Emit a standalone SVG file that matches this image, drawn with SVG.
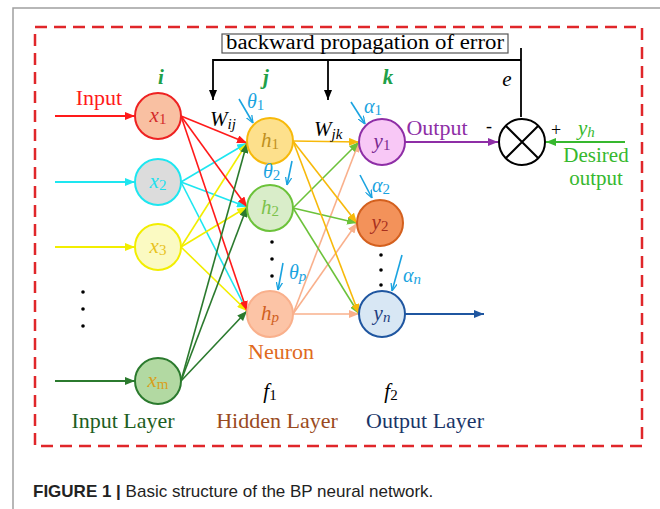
<svg xmlns="http://www.w3.org/2000/svg" width="660" height="509" viewBox="0 0 660 509">
<style>
.t{font-family:"Liberation Serif","Times New Roman",serif;}
.it{font-family:"Liberation Serif","Times New Roman",serif;font-style:italic;}
.lbl{font-size:22px;text-anchor:middle;}
.nt{font-size:21px;text-anchor:middle;}
.gk{font-size:20px;}
.node{stroke-width:2;}
.sub{font-size:15px;font-style:normal;}
.subi{font-size:15px;font-style:italic;}
.ln{fill:none;stroke-width:1.8;}
</style>
<defs>
<marker id="mRed" viewBox="0 0 10 8" refX="10" refY="4" markerWidth="10" markerHeight="8" markerUnits="userSpaceOnUse" orient="auto"><path d="M0,0L10,4L0,8z" fill="#ff1a1a"/></marker>
<marker id="mCyan" viewBox="0 0 10 8" refX="10" refY="4" markerWidth="10" markerHeight="8" markerUnits="userSpaceOnUse" orient="auto"><path d="M0,0L10,4L0,8z" fill="#1ee6f0"/></marker>
<marker id="mYel" viewBox="0 0 10 8" refX="10" refY="4" markerWidth="10" markerHeight="8" markerUnits="userSpaceOnUse" orient="auto"><path d="M0,0L10,4L0,8z" fill="#f2ee00"/></marker>
<marker id="mDg" viewBox="0 0 10 8" refX="10" refY="4" markerWidth="10" markerHeight="8" markerUnits="userSpaceOnUse" orient="auto"><path d="M0,0L10,4L0,8z" fill="#2b7a2e"/></marker>
<marker id="mGold" viewBox="0 0 10 8" refX="10" refY="4" markerWidth="10" markerHeight="8" markerUnits="userSpaceOnUse" orient="auto"><path d="M0,0L10,4L0,8z" fill="#f7b90a"/></marker>
<marker id="mGrn" viewBox="0 0 10 8" refX="10" refY="4" markerWidth="10" markerHeight="8" markerUnits="userSpaceOnUse" orient="auto"><path d="M0,0L10,4L0,8z" fill="#6cc23a"/></marker>
<marker id="mPch" viewBox="0 0 10 8" refX="10" refY="4" markerWidth="10" markerHeight="8" markerUnits="userSpaceOnUse" orient="auto"><path d="M0,0L10,4L0,8z" fill="#f9b08c"/></marker>
<marker id="mPur" viewBox="0 0 10 8" refX="10" refY="4" markerWidth="10" markerHeight="8" markerUnits="userSpaceOnUse" orient="auto"><path d="M0,0L10,4L0,8z" fill="#8e2ea6"/></marker>
<marker id="mLg" viewBox="0 0 10 8" refX="10" refY="4" markerWidth="10" markerHeight="8" markerUnits="userSpaceOnUse" orient="auto"><path d="M0,0L10,4L0,8z" fill="#36b82e"/></marker>
<marker id="mBlu" viewBox="0 0 10 8" refX="10" refY="4" markerWidth="10" markerHeight="8" markerUnits="userSpaceOnUse" orient="auto"><path d="M0,0L10,4L0,8z" fill="#1f56a0"/></marker>
<marker id="mBlk" viewBox="0 0 10 8" refX="10" refY="4" markerWidth="10" markerHeight="8" markerUnits="userSpaceOnUse" orient="auto"><path d="M0,0L10,4L0,8z" fill="#000"/></marker>
<marker id="mSky" viewBox="0 0 10 8" refX="10" refY="4" markerWidth="8" markerHeight="7" markerUnits="userSpaceOnUse" orient="auto"><path d="M0,0L10,4L0,8" fill="none" stroke="#1aa3e0" stroke-width="1.6"/></marker>
</defs>
<rect width="660" height="509" fill="#fff"/>
<!-- outer card border -->
<path d="M13,509V8H660" fill="none" stroke="#a0a0a0" stroke-width="1.5"/>
<!-- dashed frame -->
<rect x="35" y="27" width="607" height="419" fill="none" stroke="#e0262a" stroke-width="2.5" stroke-dasharray="12 7"/>

<g id="connectors">
<!-- backward propagation -->
<path class="ln" d="M521,117V48" stroke="#000"/>
<path class="ln" d="M521,60H213V100" stroke="#000" marker-end="url(#mBlk)"/>
<path class="ln" d="M328,60V100" stroke="#000" marker-end="url(#mBlk)"/>
<!-- input arrows -->
<line class="ln" x1="55" y1="116" x2="135" y2="116" stroke="#ff1a1a" marker-end="url(#mRed)"/>
<line class="ln" x1="55" y1="182" x2="135" y2="182" stroke="#1ee6f0" marker-end="url(#mCyan)"/>
<line class="ln" x1="55" y1="247" x2="135" y2="247" stroke="#f2ee00" marker-end="url(#mYel)"/>
<line class="ln" x1="55" y1="381" x2="135" y2="381" stroke="#2b7a2e" marker-end="url(#mDg)"/>
<!-- input to hidden -->
<g stroke-width="1.6">
<line x1="181" y1="182" x2="247" y2="143" stroke="#1ee6f0" marker-end="url(#mCyan)"/>
<line x1="181" y1="182" x2="247" y2="207" stroke="#1ee6f0" marker-end="url(#mCyan)"/>
<line x1="181" y1="182" x2="247" y2="311" stroke="#1ee6f0" marker-end="url(#mCyan)"/>
<line x1="181" y1="247" x2="247" y2="143" stroke="#f2ee00" marker-end="url(#mYel)"/>
<line x1="181" y1="247" x2="247" y2="207" stroke="#f2ee00" marker-end="url(#mYel)"/>
<line x1="181" y1="247" x2="247" y2="311" stroke="#f2ee00" marker-end="url(#mYel)"/>
<line x1="181" y1="116" x2="247" y2="143" stroke="#ff1a1a" marker-end="url(#mRed)"/>
<line x1="181" y1="116" x2="247" y2="207" stroke="#ff1a1a" marker-end="url(#mRed)"/>
<line x1="181" y1="116" x2="247" y2="311" stroke="#ff1a1a" marker-end="url(#mRed)"/>
<line x1="181" y1="381" x2="247" y2="143" stroke="#2b7a2e" marker-end="url(#mDg)"/>
<line x1="181" y1="381" x2="247" y2="207" stroke="#2b7a2e" marker-end="url(#mDg)"/>
<line x1="181" y1="381" x2="247" y2="311" stroke="#2b7a2e" marker-end="url(#mDg)"/>
</g>
<!-- hidden to output -->
<g stroke-width="1.6">
<line x1="293" y1="314" x2="359" y2="142" stroke="#f9b08c" marker-end="url(#mPch)"/>
<line x1="293" y1="314" x2="357" y2="223" stroke="#f9b08c" marker-end="url(#mPch)"/>
<line x1="293" y1="314" x2="359" y2="314" stroke="#f9b08c" marker-end="url(#mPch)"/>
<line x1="293" y1="208" x2="359" y2="142" stroke="#6cc23a" marker-end="url(#mGrn)"/>
<line x1="293" y1="208" x2="357" y2="223" stroke="#6cc23a" marker-end="url(#mGrn)"/>
<line x1="293" y1="208" x2="359" y2="314" stroke="#6cc23a" marker-end="url(#mGrn)"/>
<line x1="293" y1="141" x2="359" y2="142" stroke="#f7b90a" marker-end="url(#mGold)"/>
<line x1="293" y1="141" x2="357" y2="223" stroke="#f7b90a" marker-end="url(#mGold)"/>
<line x1="293" y1="141" x2="359" y2="314" stroke="#f7b90a" marker-end="url(#mGold)"/>
</g>
<!-- outputs -->
<line class="ln" x1="405" y1="142" x2="498" y2="142" stroke="#8e2ea6" marker-end="url(#mPur)"/>
<line class="ln" x1="625" y1="142" x2="546" y2="142" stroke="#36b82e" marker-end="url(#mLg)"/>
<line class="ln" x1="405" y1="314" x2="484" y2="314" stroke="#1f56a0" marker-end="url(#mBlu)"/>
<!-- bias arrows -->
<g stroke="#1aa3e0" stroke-width="1.6" fill="none">
<line x1="239" y1="99" x2="253" y2="123" marker-end="url(#mSky)"/>
<line x1="292" y1="161" x2="287" y2="185" marker-end="url(#mSky)"/>
<line x1="283" y1="263" x2="278" y2="290" marker-end="url(#mSky)"/>
<line x1="351" y1="102" x2="365" y2="124" marker-end="url(#mSky)"/>
<line x1="360" y1="175" x2="372" y2="198" marker-end="url(#mSky)"/>
<line x1="402" y1="255" x2="392" y2="291" marker-end="url(#mSky)"/>
</g>
</g>

<g id="box-backprop">
<rect x="222" y="34" width="286" height="19" fill="#fff" stroke="#555" stroke-width="1.2"/>
<text class="t" x="226" y="49" font-size="20.5" textLength="278" lengthAdjust="spacingAndGlyphs" fill="#000">backward propagation of error</text>
</g>

<g id="node-x1">
<circle class="node" cx="158" cy="116" r="23" fill="#f9c0a2" stroke="#ee2222"/>
<text class="it nt" x="158" y="122" fill="#d42a2a">x<tspan class="sub" dy="2">1</tspan></text>
</g>
<g id="node-x2">
<circle class="node" cx="158" cy="182" r="23" fill="#dcdcdc" stroke="#1ee6f0"/>
<text class="it nt" x="158" y="188" fill="#1ee0ee">x<tspan class="sub" dy="2">2</tspan></text>
</g>
<g id="node-x3">
<circle class="node" cx="158" cy="247" r="23" fill="#fbfac2" stroke="#f2ee00"/>
<text class="it nt" x="158" y="253" fill="#e8c21e">x<tspan class="sub" dy="2">3</tspan></text>
</g>
<g id="node-xm">
<circle class="node" cx="158" cy="381" r="23" fill="#b2d9a2" stroke="#2b7a2e"/>
<text class="it nt" x="158" y="387" fill="#d8a020">x<tspan class="sub" dy="2">m</tspan></text>
</g>

<g id="node-h1">
<circle class="node" cx="270" cy="141" r="23" fill="#fde08c" stroke="#f7b90a"/>
<text class="it nt" x="270" y="147" fill="#c0901e">h<tspan class="sub" dy="2">1</tspan></text>
</g>
<g id="node-h2">
<circle class="node" cx="270" cy="208" r="23" fill="#d9edc9" stroke="#6cc23a"/>
<text class="it nt" x="270" y="214" fill="#7cc24c">h<tspan class="sub" dy="2">2</tspan></text>
</g>
<g id="node-hp">
<circle class="node" cx="270" cy="314" r="23" fill="#fcc4a6" stroke="#f9b08c"/>
<text class="it nt" x="270" y="320" fill="#d0601e">h<tspan class="subi" dy="2">p</tspan></text>
</g>

<g id="node-y1">
<circle class="node" cx="382" cy="142" r="23" fill="#f8c8f6" stroke="#8e2ea6"/>
<text class="it nt" x="382" y="148" fill="#7a2a90">y<tspan class="sub" dy="2">1</tspan></text>
</g>
<g id="node-y2">
<circle class="node" cx="380" cy="223" r="23" fill="#f3925a" stroke="#d4601e"/>
<text class="it nt" x="380" y="229" fill="#a8301e">y<tspan class="sub" dy="2">2</tspan></text>
</g>
<g id="node-yn">
<circle class="node" cx="382" cy="314" r="23" fill="#d8e7f4" stroke="#1f56a0"/>
<text class="it nt" x="382" y="320" fill="#1f3f80">y<tspan class="subi" dy="2">n</tspan></text>
</g>

<g id="node-sum">
<circle cx="522" cy="142" r="23" fill="#fff" stroke="#000" stroke-width="2"/>
<path d="M505.7,125.7L538.3,158.3M538.3,125.7L505.7,158.3" stroke="#000" stroke-width="2"/>
</g>

<g id="labels">
<text class="t" x="99" y="105" font-size="22" text-anchor="middle" fill="#ff1a1a">Input</text>
<text class="it" x="161" y="84" font-size="21" font-weight="bold" text-anchor="middle" fill="#20a048">i</text>
<text class="it" x="266" y="84" font-size="21" font-weight="bold" text-anchor="middle" fill="#20a048">j</text>
<text class="it" x="388" y="84" font-size="21" font-weight="bold" text-anchor="middle" fill="#20a048">k</text>
<text class="it" x="507" y="86" font-size="21" text-anchor="middle" fill="#000">e</text>
<text class="it" x="210" y="126" font-size="21" fill="#000">W<tspan class="subi" dy="3">ij</tspan></text>
<text class="it" x="314" y="136" font-size="21" fill="#000">W<tspan class="subi" dy="3">jk</tspan></text>
<text class="it gk" x="247" y="108" fill="#1aa3e0">θ<tspan class="sub" dy="2">1</tspan></text>
<text class="it gk" x="263" y="178" fill="#1aa3e0">θ<tspan class="sub" dy="2">2</tspan></text>
<text class="it gk" x="289" y="279" fill="#1aa3e0">θ<tspan class="subi" dy="2">p</tspan></text>
<text class="it gk" x="364" y="113" fill="#1aa3e0">α<tspan class="sub" dy="2">1</tspan></text>
<text class="it gk" x="372" y="192" fill="#1aa3e0">α<tspan class="sub" dy="2">2</tspan></text>
<text class="it gk" x="403" y="282" fill="#1aa3e0">α<tspan class="subi" dy="2">n</tspan></text>
<text class="t" x="437" y="135" font-size="22" text-anchor="middle" fill="#8e2ea6">Output</text>
<text class="t" x="489" y="132" font-size="18" text-anchor="middle" fill="#000">-</text>
<text class="t" x="556" y="136" font-size="18" text-anchor="middle" fill="#000">+</text>
<text class="it" x="578" y="135" font-size="21" fill="#36b82e">y<tspan class="subi" dy="2">h</tspan></text>
<text class="t" x="596" y="162" font-size="21" text-anchor="middle" fill="#36b82e">Desired</text>
<text class="t" x="596" y="185" font-size="21" text-anchor="middle" fill="#36b82e">output</text>
<text class="t" x="281" y="359" font-size="22" text-anchor="middle" fill="#e06a20">Neuron</text>
<text class="it" x="270" y="398" font-size="21" text-anchor="middle" fill="#000">f<tspan class="sub" dy="2">1</tspan></text>
<text class="it" x="391" y="398" font-size="21" text-anchor="middle" fill="#000">f<tspan class="sub" dy="2">2</tspan></text>
<text class="t lbl" x="123" y="428" fill="#1e5e22">Input Layer</text>
<text class="t lbl" x="277" y="428" fill="#9a4a20">Hidden Layer</text>
<text class="t lbl" x="425" y="428" fill="#1a3568">Output Layer</text>
</g>

<g id="dots" fill="#000">
<circle cx="83" cy="292" r="1.8"/><circle cx="83" cy="309" r="1.8"/><circle cx="83" cy="326" r="1.8"/>
<circle cx="272" cy="242" r="1.8"/><circle cx="272" cy="259" r="1.8"/><circle cx="272" cy="276" r="1.8"/>
<circle cx="381" cy="255" r="1.8"/><circle cx="381" cy="270" r="1.8"/><circle cx="381" cy="285" r="1.8"/>
</g>

<text x="33" y="497" font-family="Liberation Sans, Arial, sans-serif" font-size="17" fill="#222"><tspan font-weight="bold">FIGURE 1 |</tspan> Basic structure of the BP neural network.</text>
</svg>
